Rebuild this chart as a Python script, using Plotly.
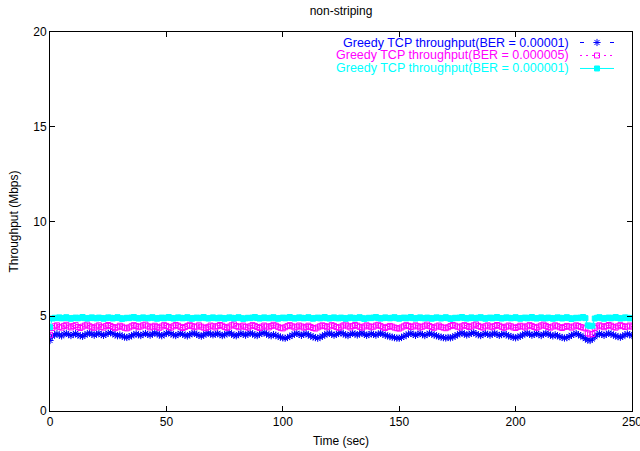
import plotly.graph_objects as go

# Sample times (sec), one sample per second
time_sec = [
    0, 1, 2, 3, 4, 5, 6, 7, 8, 9,
    10, 11, 12, 13, 14, 15, 16, 17, 18, 19,
    20, 21, 22, 23, 24, 25, 26, 27, 28, 29,
    30, 31, 32, 33, 34, 35, 36, 37, 38, 39,
    40, 41, 42, 43, 44, 45, 46, 47, 48, 49,
    50, 51, 52, 53, 54, 55, 56, 57, 58, 59,
    60, 61, 62, 63, 64, 65, 66, 67, 68, 69,
    70, 71, 72, 73, 74, 75, 76, 77, 78, 79,
    80, 81, 82, 83, 84, 85, 86, 87, 88, 89,
    90, 91, 92, 93, 94, 95, 96, 97, 98, 99,
    100, 101, 102, 103, 104, 105, 106, 107, 108, 109,
    110, 111, 112, 113, 114, 115, 116, 117, 118, 119,
    120, 121, 122, 123, 124, 125, 126, 127, 128, 129,
    130, 131, 132, 133, 134, 135, 136, 137, 138, 139,
    140, 141, 142, 143, 144, 145, 146, 147, 148, 149,
    150, 151, 152, 153, 154, 155, 156, 157, 158, 159,
    160, 161, 162, 163, 164, 165, 166, 167, 168, 169,
    170, 171, 172, 173, 174, 175, 176, 177, 178, 179,
    180, 181, 182, 183, 184, 185, 186, 187, 188, 189,
    190, 191, 192, 193, 194, 195, 196, 197, 198, 199,
    200, 201, 202, 203, 204, 205, 206, 207, 208, 209,
    210, 211, 212, 213, 214, 215, 216, 217, 218, 219,
    220, 221, 222, 223, 224, 225, 226, 227, 228, 229,
    230, 231, 232, 233, 234, 235, 236, 237, 238, 239,
    240, 241, 242, 243, 244, 245, 246, 247, 248, 249,
    250,
]

# Throughput (Mbps), BER = 0.00001
tput_ber_1e5 = [
    3.72, 3.95, 4.02, 4.08, 4.00, 3.96, 4.06, 4.10, 4.03, 3.98,
    4.04, 4.09, 4.01, 3.97, 3.94, 4.02, 4.07, 4.12, 4.05, 4.00,
    4.06, 4.10, 4.03, 3.99, 4.04, 4.11, 4.14, 4.08, 4.02, 3.97,
    4.01, 3.95, 3.90, 3.88, 3.92, 3.97, 4.03, 4.07, 4.02, 3.98,
    4.05, 4.09, 4.04, 4.00, 4.06, 4.12, 4.08, 4.01, 3.97, 4.03,
    4.10, 4.14, 4.07, 4.02, 3.98, 4.04, 4.09, 4.05, 4.00, 3.96,
    4.03, 4.08, 4.11, 4.04, 3.99, 3.95, 4.01, 4.07, 4.12, 4.06,
    4.02, 4.05, 4.10, 4.03, 3.98, 4.02, 4.08, 4.13, 4.06, 4.00,
    3.97, 4.04, 4.09, 4.05, 4.00, 4.06, 4.11, 4.07, 4.01, 3.98,
    4.05, 4.10, 4.14, 4.06, 4.01, 3.97, 4.03, 4.00, 3.94, 3.90,
    3.86, 3.84, 3.88, 3.93, 4.00, 4.06, 4.10, 4.04, 3.99, 4.05,
    4.08, 4.02, 3.96, 3.91, 3.87, 3.84, 3.89, 3.95, 4.02, 4.07,
    4.11, 4.05, 4.00, 4.04, 4.09, 4.13, 4.07, 4.02, 3.98, 4.05,
    4.10, 4.06, 4.01, 4.07, 4.12, 4.05, 3.99, 4.03, 4.08, 4.04,
    4.00, 4.06, 4.11, 4.05, 4.00, 3.96, 3.93, 3.90, 3.87, 3.85,
    3.84, 3.88, 3.94, 4.00, 4.06, 4.10, 4.04, 3.99, 4.05, 4.09,
    4.03, 3.98, 4.04, 4.10, 4.06, 4.01, 3.97, 3.93, 3.90, 3.87,
    3.85, 3.88, 3.86, 3.90, 3.96, 4.02, 4.08, 4.12, 4.06, 4.01,
    4.05, 4.10, 4.14, 4.07, 4.02, 3.98, 4.04, 4.09, 4.05, 4.00,
    4.06, 4.11, 4.04, 3.99, 4.03, 4.08, 4.02, 3.97, 3.93, 3.89,
    3.86, 3.90, 3.95, 4.01, 4.07, 4.11, 4.05, 4.00, 4.04, 4.09,
    4.03, 3.98, 4.05, 4.10, 4.06, 4.00, 3.96, 4.02, 3.97, 3.92,
    3.88, 3.85, 3.87, 3.93, 3.99, 4.05, 4.09, 4.03, 3.97, 3.90,
    3.82, 3.74, 3.72, 3.80, 3.92, 4.02, 4.08, 4.04, 3.99, 4.05,
    4.10, 4.06, 4.01, 3.96, 3.92, 3.89, 3.95, 4.02, 4.07, 4.03,
    3.98,
]

# Throughput (Mbps), BER = 0.000005
tput_ber_5e6 = [
    4.02, 4.38, 4.47, 4.52, 4.44, 4.40, 4.49, 4.55, 4.46, 4.41,
    4.48, 4.53, 4.43, 4.38, 4.45, 4.51, 4.56, 4.47, 4.42, 4.39,
    4.46, 4.52, 4.44, 4.40, 4.48, 4.54, 4.49, 4.43, 4.37, 4.42,
    4.50, 4.45, 4.39, 4.36, 4.41, 4.47, 4.53, 4.48, 4.42, 4.46,
    4.52, 4.56, 4.47, 4.41, 4.45, 4.50, 4.44, 4.39, 4.46, 4.53,
    4.49, 4.43, 4.40, 4.47, 4.54, 4.50, 4.44, 4.38, 4.43, 4.49,
    4.55, 4.48, 4.42, 4.46, 4.52, 4.45, 4.40, 4.37, 4.44, 4.51,
    4.47, 4.41, 4.48, 4.54, 4.50, 4.43, 4.39, 4.45, 4.52, 4.57,
    4.48, 4.42, 4.46, 4.51, 4.44, 4.40, 4.47, 4.53, 4.49, 4.43,
    4.38, 4.45, 4.51, 4.46, 4.41, 4.48, 4.55, 4.50, 4.44, 4.39,
    4.36, 4.42, 4.48, 4.53, 4.47, 4.41, 4.45, 4.51, 4.46, 4.40,
    4.44, 4.50, 4.43, 4.38, 4.35, 4.41, 4.47, 4.52, 4.48, 4.42,
    4.46, 4.53, 4.49, 4.43, 4.39, 4.45, 4.51, 4.56, 4.47, 4.41,
    4.48, 4.54, 4.50, 4.44, 4.40, 4.46, 4.52, 4.47, 4.42, 4.45,
    4.51, 4.55, 4.48, 4.42, 4.38, 4.44, 4.49, 4.45, 4.40, 4.37,
    4.35, 4.41, 4.47, 4.53, 4.49, 4.43, 4.46, 4.52, 4.47, 4.41,
    4.45, 4.50, 4.56, 4.48, 4.43, 4.39, 4.46, 4.51, 4.44, 4.40,
    4.37, 4.42, 4.48, 4.54, 4.50, 4.45, 4.41, 4.47, 4.53, 4.49,
    4.43, 4.46, 4.52, 4.57, 4.49, 4.44, 4.40, 4.47, 4.52, 4.46,
    4.42, 4.48, 4.54, 4.50, 4.44, 4.39, 4.45, 4.51, 4.47, 4.41,
    4.38, 4.44, 4.50, 4.46, 4.41, 4.47, 4.53, 4.48, 4.43, 4.39,
    4.45, 4.51, 4.56, 4.49, 4.43, 4.40, 4.46, 4.52, 4.47, 4.42,
    4.38, 4.44, 4.49, 4.45, 4.40, 4.46, 4.52, 4.48, 4.43, 4.40,
    4.36, 4.10, 4.04, 4.06, 4.38, 4.46, 4.52, 4.47, 4.42, 4.48,
    4.54, 4.50, 4.44, 4.40, 4.47, 4.53, 4.48, 4.43, 4.46, 4.51,
    4.45,
]

# Throughput (Mbps), BER = 0.000001
tput_ber_1e6 = [
    4.42, 4.88, 4.92, 4.90, 4.94, 4.89, 4.91, 4.95, 4.90, 4.87,
    4.91, 4.93, 4.89, 4.92, 4.96, 4.90, 4.88, 4.91, 4.94, 4.90,
    4.89, 4.93, 4.91, 4.87, 4.90, 4.94, 4.92, 4.88, 4.91, 4.95,
    4.90, 4.86, 4.89, 4.92, 4.90, 4.93, 4.96, 4.91, 4.88, 4.90,
    4.94, 4.91, 4.89, 4.92, 4.95, 4.90, 4.87, 4.91, 4.93, 4.89,
    4.92, 4.96, 4.91, 4.88, 4.90, 4.94, 4.92, 4.89, 4.91, 4.95,
    4.90, 4.87, 4.91, 4.93, 4.89, 4.92, 4.96, 4.90, 4.88, 4.91,
    4.94, 4.90, 4.89, 4.93, 4.91, 4.87, 4.90, 4.94, 4.92, 4.88,
    4.91, 4.95, 4.90, 4.86, 4.89, 4.92, 4.90, 4.93, 4.96, 4.91,
    4.88, 4.90, 4.94, 4.91, 4.89, 4.92, 4.95, 4.90, 4.87, 4.91,
    4.93, 4.89, 4.92, 4.96, 4.91, 4.88, 4.90, 4.94, 4.92, 4.89,
    4.91, 4.95, 4.90, 4.87, 4.91, 4.93, 4.89, 4.92, 4.96, 4.90,
    4.88, 4.91, 4.94, 4.90, 4.89, 4.93, 4.91, 4.87, 4.90, 4.94,
    4.92, 4.88, 4.91, 4.95, 4.90, 4.86, 4.89, 4.92, 4.90, 4.93,
    4.96, 4.91, 4.88, 4.90, 4.94, 4.91, 4.89, 4.92, 4.95, 4.90,
    4.87, 4.91, 4.93, 4.89, 4.92, 4.96, 4.90, 4.88, 4.91, 4.94,
    4.90, 4.89, 4.93, 4.91, 4.87, 4.90, 4.94, 4.92, 4.88, 4.91,
    4.95, 4.90, 4.86, 4.89, 4.92, 4.90, 4.93, 4.96, 4.91, 4.88,
    4.90, 4.94, 4.91, 4.89, 4.92, 4.95, 4.90, 4.87, 4.91, 4.93,
    4.89, 4.92, 4.96, 4.91, 4.88, 4.90, 4.94, 4.92, 4.89, 4.91,
    4.95, 4.90, 4.87, 4.91, 4.93, 4.89, 4.92, 4.96, 4.90, 4.88,
    4.91, 4.94, 4.90, 4.89, 4.93, 4.91, 4.87, 4.90, 4.94, 4.92,
    4.88, 4.91, 4.95, 4.90, 4.86, 4.89, 4.92, 4.90, 4.93, 4.96,
    4.90, 4.52, 4.48, 4.50, 4.88, 4.92, 4.95, 4.90, 4.87, 4.91,
    4.93, 4.89, 4.92, 4.96, 4.91, 4.88, 4.90, 4.94, 4.92, 4.89,
    4.91,
]

series_names = [
    "Greedy TCP throughput(BER = 0.00001)",
    "Greedy TCP throughput(BER = 0.000005)",
    "Greedy TCP throughput(BER = 0.000001)",
]
series_values = [tput_ber_1e5, tput_ber_5e6, tput_ber_1e6]
series_colors = ["#0000ff", "#ff00ff", "#00ffff"]
series_dash = ["dash", "dot", "solid"]
series_symbol = ["asterisk-open", "square-open", "square"]
series_msize = [6, 5, 5]

FONT = "Liberation Sans, Arial, Helvetica, sans-serif"

fig = go.Figure()

for name, vals, col, dash, sym, ms in zip(series_names, series_values, series_colors,
                                          series_dash, series_symbol, series_msize):
    fig.add_trace(go.Scatter(
        x=time_sec, y=vals, mode="lines+markers", name=name, showlegend=False,
        line=dict(color=col, width=1, dash=dash),
        marker=dict(symbol=sym, size=ms, color=col, line=dict(color=col, width=1)),
    ))

# Key: right-aligned label with the line/point sample to its right
key_rows = [42.5, 55.5, 68.5]
key_dash = ["4px,11px", "2px,4px", "solid"]
for name, col, dash, sym, ms, row in zip(series_names, series_colors, key_dash,
                                         series_symbol, series_msize, key_rows):
    fig.add_trace(go.Scatter(
        x=[0, 0.5, 1], y=[row, row, row], mode="lines", xaxis="x2", yaxis="y2",
        showlegend=False, hoverinfo="skip",
        line=dict(color=col, width=1, dash=dash),
    ))
    fig.add_trace(go.Scatter(
        x=[0.5], y=[row], mode="markers", xaxis="x2", yaxis="y2",
        showlegend=False, hoverinfo="skip",
        marker=dict(symbol=sym, size=ms, color=col, line=dict(color=col, width=1)),
    ))
    fig.add_annotation(
        text=name, xref="paper", yref="y2", x=(571 - 50) / 582, y=row,
        xanchor="right", yanchor="middle", showarrow=False,
        font=dict(family=FONT, size=12.5, color=col),
    )

axis_common = dict(
    showline=True, linecolor="black", linewidth=1, mirror="ticks",
    ticks="inside", ticklen=5, tickcolor="black", showgrid=False, zeroline=False,
    automargin=False,
    tickfont=dict(family=FONT, size=12, color="black"),
)

fig.update_layout(
    width=640, height=451,
    margin=dict(l=50, r=8, t=32, b=40),
    paper_bgcolor="white", plot_bgcolor="white",
    title=dict(text="non-striping", x=(50 + 291) / 640, xanchor="center",
               y=1 - 11 / 451, yanchor="middle",
               font=dict(family=FONT, size=12, color="black")),
    xaxis=dict(range=[0, 250], tickvals=[0, 50, 100, 150, 200, 250],
               ticklabeloverflow="allow",
               title=dict(text="Time (sec)", standoff=8,
                          font=dict(family=FONT, size=12, color="black")),
               **axis_common),
    yaxis=dict(range=[0, 20], tickvals=[0, 5, 10, 15, 20],
               title=dict(text="Throughput (Mbps)", standoff=12,
                          font=dict(family=FONT, size=12, color="black")),
               **axis_common),
    xaxis2=dict(domain=[(580 - 50) / 582, (614 - 50) / 582], range=[0, 1],
                visible=False, anchor="y2"),
    yaxis2=dict(domain=[0.88, 1.0], range=[77.5, 32], visible=False, anchor="x2"),
)

fig.write_html("out.html")
